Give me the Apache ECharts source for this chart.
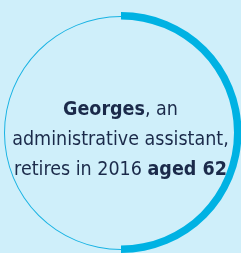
<!DOCTYPE html>
<html>
<head>
<meta charset="utf-8">
<script src="https://cdn.jsdelivr.net/npm/echarts@6/dist/echarts.min.js"></script>
<style>
html,body{margin:0;padding:0;background:#cfeffa;}
#main{width:241px;height:253px;}
</style>
</head>
<body>
<div id="main"></div>
<script>
// share of the ring that is filled (out of 100)
var shareNames = ['done', 'rest'];
var shareValues = [50, 50];
var ringValues = [100];
var textLines = ['{b|Georges}{n|, an}', '{n|administrative assistant,}', '{n|retires in 2016 }{b|aged 62}'];

var fam = "'Liberation Sans Narrow', 'DejaVu Sans Condensed', 'Roboto Condensed', sans-serif";

var myChart = echarts.init(document.getElementById('main'));
var option = {
	backgroundColor: '#cfeffa',
	animation: false,
	title: {
		text: textLines.join('\n'),
		left: 'center',
		top: 90,
		textStyle: {
			fontFamily: fam,
			fontWeight: 'normal',
			rich: {
				b: {
					fontFamily: fam,
					fontWeight: 'bold',
					fontSize: 19.5,
					lineHeight: 30,
					color: '#1b2a4a'
				},
				n: {
					fontFamily: fam,
					fontWeight: 'normal',
					fontSize: 19.5,
					lineHeight: 30,
					color: '#1b2a4a'
				}
			}
		}
	},
	series: [
		{
			type: 'pie',
			silent: true,
			center: [121, 133],
			radius: [116, 117],
			label: { show: false },
			itemStyle: { color: '#19b3e3' },
			data: ringValues
		},
		{
			type: 'pie',
			silent: true,
			center: [121, 132.5],
			radius: [113, 120.5],
			startAngle: 90,
			clockwise: true,
			label: { show: false },
			data: [
				{ name: shareNames[0], value: shareValues[0], itemStyle: { color: '#00b2e3' } },
				{ name: shareNames[1], value: shareValues[1], itemStyle: { color: 'transparent' } }
			]
		}
	]
};
myChart.setOption(option);
</script>
</body>
</html>
